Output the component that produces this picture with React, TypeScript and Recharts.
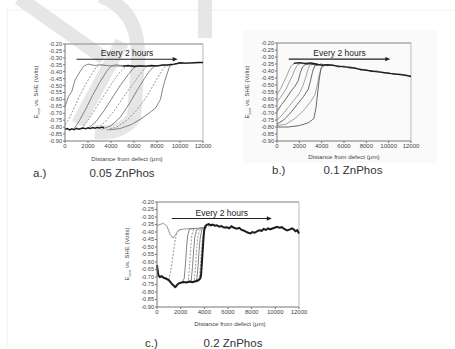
import React from 'react';
import { LineChart, Line, XAxis, YAxis, ReferenceLine, Label } from 'recharts';

// shared axes
const xTicks = [0, 2000, 4000, 6000, 8000, 10000, 12000];
const yTicks = [-0.9, -0.85, -0.8, -0.75, -0.7, -0.65, -0.6, -0.55, -0.5, -0.45, -0.4, -0.35, -0.3, -0.25, -0.2];

// a.) 0.05 ZnPhos  [distance um, potential V]
const aBase = [[0, -0.815], [200, -0.81], [400, -0.82], [600, -0.812], [800, -0.818], [1000, -0.808], [1200, -0.815], [1400, -0.81], [1600, -0.806], [1800, -0.812], [2000, -0.805], [2200, -0.81], [2400, -0.803], [2600, -0.808], [2800, -0.802], [3000, -0.806], [3200, -0.8], [3400, -0.803]];
const aTop = [[5000, -0.36], [5500, -0.355], [6000, -0.362], [6500, -0.358], [7000, -0.36], [7500, -0.355], [8000, -0.358], [8500, -0.352], [9000, -0.35], [9500, -0.345], [10000, -0.335], [10500, -0.338], [11000, -0.336], [11500, -0.334], [12000, -0.333]];
const a1 = [[0, -0.65], [300, -0.58], [600, -0.54], [870, -0.46], [1300, -0.4], [1600, -0.362], [2000, -0.345], [2600, -0.355], [3000, -0.35], [4000, -0.358], [5000, -0.36], [6000, -0.358], [7000, -0.362], [8000, -0.356], [9000, -0.352], [10000, -0.34], [11000, -0.338], [12000, -0.333]];
const a2 = [[0, -0.78], [300, -0.75], [800, -0.66], [1300, -0.57], [1800, -0.49], [2300, -0.42], [2700, -0.37], [3000, -0.35], [3600, -0.355]];
const a3 = [[800, -0.81], [1200, -0.76], [1800, -0.67], [2400, -0.57], [3000, -0.48], [3600, -0.4], [4000, -0.36], [4400, -0.35], [5000, -0.356]];
const a4 = [[1400, -0.81], [2000, -0.75], [2700, -0.66], [3400, -0.57], [4100, -0.48], [4700, -0.41], [5200, -0.37], [5600, -0.355], [6200, -0.36]];
const a5 = [[2000, -0.81], [2700, -0.76], [3400, -0.68], [4100, -0.59], [4800, -0.5], [5500, -0.42], [6000, -0.37], [6400, -0.355], [7000, -0.36]];
const a6 = [[2800, -0.81], [3500, -0.76], [4300, -0.68], [5100, -0.58], [5900, -0.49], [6500, -0.42], [7000, -0.37], [7400, -0.355], [8000, -0.358]];
const a7 = [[3200, -0.815], [4000, -0.79], [4800, -0.73], [5600, -0.63], [6300, -0.53], [6900, -0.45], [7400, -0.39], [7800, -0.36], [8500, -0.355]];
const a8 = [[3600, -0.82], [4500, -0.8], [5400, -0.75], [6300, -0.67], [7100, -0.58], [7800, -0.48], [8300, -0.41], [8700, -0.36], [9300, -0.352]];
const a9 = [[3800, -0.82], [4800, -0.81], [5800, -0.78], [6600, -0.74], [7300, -0.7], [7900, -0.66], [8300, -0.6], [8500, -0.52], [8700, -0.46], [8900, -0.41], [9100, -0.36], [9500, -0.345], [10000, -0.338]];

// b.) 0.1 ZnPhos
const b1 = [[0, -0.57], [300, -0.53], [600, -0.48], [900, -0.43], [1100, -0.39], [1300, -0.36], [1600, -0.345], [2000, -0.345], [2600, -0.35]];
const b2 = [[0, -0.62], [400, -0.58], [800, -0.53], [1100, -0.48], [1400, -0.43], [1600, -0.39], [1800, -0.36], [2100, -0.345], [2700, -0.348]];
const b3 = [[0, -0.69], [400, -0.64], [800, -0.6], [1200, -0.55], [1600, -0.51], [1900, -0.47], [2100, -0.41], [2300, -0.37], [2600, -0.35], [3200, -0.345]];
const b4 = [[0, -0.75], [500, -0.71], [1000, -0.66], [1500, -0.61], [2000, -0.56], [2300, -0.51], [2600, -0.44], [2800, -0.38], [3000, -0.355], [3600, -0.35]];
const b5 = [[0, -0.78], [600, -0.75], [1200, -0.7], [1800, -0.64], [2400, -0.58], [2800, -0.53], [3000, -0.47], [3200, -0.4], [3400, -0.36], [4000, -0.35]];
const b6 = [[0, -0.79], [800, -0.78], [1600, -0.74], [2400, -0.68], [3000, -0.62], [3400, -0.57], [3600, -0.5], [3800, -0.42], [4000, -0.37], [4500, -0.355]];
const b7 = [[0, -0.8], [1000, -0.8], [2000, -0.79], [2800, -0.77], [3300, -0.74], [3500, -0.66], [3650, -0.55], [3800, -0.45], [3950, -0.38], [4200, -0.36], [4800, -0.355]];
const bTop = [[1500, -0.345], [2000, -0.34], [2500, -0.345], [3000, -0.342], [3500, -0.35], [4000, -0.36], [4500, -0.355], [5000, -0.36], [5500, -0.365], [6000, -0.37], [6500, -0.372], [7000, -0.382], [7500, -0.388], [8000, -0.396], [8500, -0.4], [9000, -0.406], [9500, -0.41], [10000, -0.417], [10500, -0.42], [11000, -0.426], [11500, -0.432], [12000, -0.44]];
const bTop2 = [[2500, -0.352], [3000, -0.35], [3500, -0.358], [4000, -0.352], [4500, -0.362], [5000, -0.356], [5500, -0.372], [6000, -0.365], [6500, -0.38], [7000, -0.376], [7500, -0.394], [8000, -0.39], [8500, -0.405], [9000, -0.4], [9500, -0.414], [10000, -0.412], [10500, -0.424], [11000, -0.422], [11500, -0.428], [12000, -0.436]];

// c.) 0.2 ZnPhos
const cEarly = [[0, -0.36], [150, -0.352], [550, -0.342], [850, -0.362], [1100, -0.415], [1350, -0.44], [1550, -0.42], [1850, -0.386], [2250, -0.38], [2800, -0.378], [3400, -0.375], [4200, -0.368]];
const cBlack = [[0, -0.62], [60, -0.66], [120, -0.69], [250, -0.7], [400, -0.695], [560, -0.705], [750, -0.71], [985, -0.72], [1150, -0.735], [1300, -0.75], [1410, -0.757], [1530, -0.768], [1620, -0.762], [1750, -0.748], [1850, -0.742], [2000, -0.738], [2250, -0.733], [2500, -0.736], [2750, -0.73], [3000, -0.734], [3250, -0.728], [3500, -0.722], [3650, -0.71], [3720, -0.69], [3780, -0.62], [3830, -0.56], [3890, -0.49], [3940, -0.43], [4000, -0.385], [4080, -0.362], [4200, -0.352], [4370, -0.348], [4550, -0.356], [4700, -0.35], [4900, -0.358], [5070, -0.355], [5250, -0.365], [5450, -0.36], [5650, -0.37], [5900, -0.368], [6100, -0.375], [6300, -0.362], [6500, -0.372], [6760, -0.378], [6950, -0.372], [7150, -0.386], [7320, -0.39], [7500, -0.398], [7700, -0.405], [7890, -0.41], [8050, -0.4], [8250, -0.405], [8450, -0.396], [8650, -0.388], [8850, -0.392], [9010, -0.38], [9200, -0.386], [9400, -0.376], [9580, -0.382], [9800, -0.375], [10000, -0.37], [10140, -0.366], [10350, -0.372], [10560, -0.368], [10750, -0.38], [10990, -0.39], [11200, -0.384], [11400, -0.376], [11550, -0.382], [11700, -0.395], [11850, -0.388], [12000, -0.41]];
const cd1 = [[1000, -0.72], [1200, -0.64], [1350, -0.56], [1500, -0.47], [1650, -0.41], [1800, -0.39], [2200, -0.38]];
const c2 = [[2100, -0.74], [2300, -0.71], [2400, -0.62], [2500, -0.5], [2600, -0.42], [2750, -0.38], [3200, -0.376]];
const c3 = [[2450, -0.735], [2650, -0.72], [2750, -0.63], [2850, -0.51], [2950, -0.42], [3100, -0.38], [3500, -0.374]];
const c4 = [[2700, -0.74], [2900, -0.72], [3000, -0.63], [3100, -0.52], [3200, -0.43], [3350, -0.385], [3800, -0.372]];
const c5 = [[2950, -0.735], [3150, -0.72], [3250, -0.64], [3350, -0.52], [3450, -0.43], [3600, -0.39], [4000, -0.37]];
const c6 = [[3150, -0.735], [3350, -0.72], [3450, -0.65], [3550, -0.53], [3650, -0.44], [3800, -0.38], [4200, -0.365]];
const c7 = [[3300, -0.735], [3550, -0.72], [3650, -0.65], [3750, -0.53], [3850, -0.44], [4000, -0.38], [4400, -0.36]];

const FONT = '"Liberation Sans", Arial, sans-serif';
const SOLID = '#767676';
const DASH = '#8a8a8a';
const DARK = '#5a5a5a';
const BLACK = '#1c1c1c';

type Series = { rows: number[][]; color: string; width?: number; dash?: string };
const pts = (rows: number[][]) => rows.map(([x, y]) => ({ x, y }));

const arrowShape = (props: any) => {
  const { x1, y1, x2, y2 } = props;
  return (
    <g>
      <line x1={x1} y1={y1} x2={x2 - 4} y2={y2} stroke="#222" strokeWidth={1.2} />
      <polygon points={`${x2},${y2} ${x2 - 5},${y2 - 2.2} ${x2 - 5},${y2 + 2.2}`} fill="#222" />
    </g>
  );
};

function Panel(props: {
  left: number; top: number; width: number; height: number;
  series: Series[]; arrow: [number, number, number];
}) {
  const { left, top, width, height, series, arrow } = props;
  return (
    <div style={{ position: 'absolute', left, top }}>
      <LineChart width={width} height={height} margin={{ top: 10, right: 14, bottom: 10, left: 0 }}>
        <XAxis
          type="number"
          dataKey="x"
          domain={[0, 12000]}
          ticks={xTicks}
          interval={0}
          height={13}
          tickSize={2}
          tickMargin={1}
          stroke="#777"
          tick={{ fontSize: 6, fill: '#444', fontFamily: FONT }}
          allowDuplicatedCategory={false}
        />
        <YAxis
          type="number"
          domain={[-0.9, -0.2]}
          ticks={yTicks}
          interval={0}
          width={30}
          tickSize={2}
          tickMargin={1}
          stroke="#777"
          tickFormatter={(v: number) => v.toFixed(2)}
          tick={{ fontSize: 5.6, fill: '#444', fontFamily: FONT }}
        />
        <ReferenceLine y={-0.2} stroke="#aaa" strokeWidth={1.5} />
        <ReferenceLine x={12000} stroke="#bbb" strokeWidth={1} />
        {series.map((s, i) => (
          <Line
            key={i}
            data={pts(s.rows)}
            dataKey="y"
            type="linear"
            stroke={s.color}
            strokeWidth={s.width ?? 0.9}
            strokeDasharray={s.dash}
            dot={false}
            isAnimationActive={false}
          />
        ))}
        <ReferenceLine
          segment={[{ x: arrow[0], y: arrow[2] }, { x: arrow[1], y: arrow[2] }]}
          shape={arrowShape}
        >
          <Label value="Every 2 hours" position="top" offset={3} fontSize={8.5} fill="#222" fontFamily={FONT} />
        </ReferenceLine>
      </LineChart>
    </div>
  );
}

const seriesA: Series[] = [
  { rows: a1, color: SOLID }, { rows: a2, color: DASH, dash: '2 1.5' },
  { rows: a3, color: SOLID }, { rows: a4, color: DASH, dash: '2 1.5' },
  { rows: a5, color: SOLID }, { rows: a6, color: DASH, dash: '2 1.5' },
  { rows: a7, color: SOLID }, { rows: a8, color: DASH, dash: '2 1.5' },
  { rows: a9, color: SOLID },
  { rows: aBase, color: BLACK, width: 1.4 }, { rows: aTop, color: BLACK, width: 1.4 },
];
const seriesB: Series[] = [
  { rows: b1, color: '#999' }, { rows: b2, color: '#999' }, { rows: b3, color: DARK },
  { rows: b4, color: '#999' }, { rows: b5, color: DARK }, { rows: b6, color: '#999' },
  { rows: b7, color: DARK },
  { rows: bTop2, color: '#555', width: 1 }, { rows: bTop, color: BLACK, width: 1.3 },
];
const seriesC: Series[] = [
  { rows: cEarly, color: '#888' }, { rows: cd1, color: DASH, dash: '2 1.5' },
  { rows: c2, color: SOLID }, { rows: c3, color: DASH, dash: '2 1.5' },
  { rows: c4, color: SOLID }, { rows: c5, color: DASH, dash: '2 1.5' },
  { rows: c6, color: SOLID }, { rows: c7, color: DASH, dash: '2 1.5' },
  { rows: cBlack, color: BLACK, width: 2 },
];

const YTitle = ({ x, y }: { x: number; y: number }) => (
  <text x={x} y={y} transform={`rotate(-90 ${x} ${y})`} textAnchor="middle" fontSize={6} fill="#444" fontFamily={FONT}>
    E<tspan fontSize={4} dy={1.5}>corr</tspan><tspan dy={-1.5}> vs. SHE (Volts)</tspan>
  </text>
);

export default function App() {
  return (
    <div style={{ position: 'absolute', left: 0, top: 0, width: 455, height: 349, background: '#fff', overflow: 'hidden', fontFamily: FONT }}>
      {/* faint page furniture and watermark */}
      <svg width={455} height={349} style={{ position: 'absolute', left: 0, top: 0 }}>
        <line x1={7} y1={10} x2={455} y2={10} stroke="#f0f0f0" />
        <line x1={7} y1={10} x2={7} y2={349} stroke="#f0f0f0" />
        <rect x={243} y={30} width={194} height={133} fill="#fafafa" />
        <g stroke="#e6e6e6" strokeWidth={14} fill="none" strokeLinecap="butt">
          <line x1={19} y1={-2} x2={104} y2={58} />
          <line x1={122} y1={42} x2={78} y2={124} />
          <path d="M 100 -4 Q 140 10 138 60 L 134 118 Q 120 135 95 132" />
          <line x1={205} y1={-2} x2={205} y2={38} />
        </g>
      </svg>

      <Panel left={35} top={34} width={182} height={130} series={seriesA} arrow={[1000, 9800, -0.31]} />
      <Panel left={247} top={33} width={178} height={131} series={seriesB} arrow={[1050, 10150, -0.315]} />
      <Panel left={127} top={192} width={186} height={138} series={seriesC} arrow={[1250, 9700, -0.31]} />

      <svg width={455} height={349} style={{ position: 'absolute', left: 0, top: 0, pointerEvents: 'none' }}>
        <YTitle x={38} y={92} />
        <YTitle x={249} y={92} />
        <YTitle x={129} y={254} />
        <g fontSize={6.2} fill="#444" fontFamily={FONT} textAnchor="middle">
          <text x={127} y={161}>Distance from defect (μm)</text>
          <text x={344} y={159}>Distance from defect (μm)</text>
          <text x={230} y={326}>Distance from defect (μm)</text>
        </g>
        <g fontSize={11.5} fill="#333" fontFamily={FONT}>
          <text x={33} y={177}>a.)</text>
          <text x={122} y={177} textAnchor="middle">0.05 ZnPhos</text>
          <text x={272} y={174}>b.)</text>
          <text x={353} y={174} textAnchor="middle">0.1 ZnPhos</text>
          <text x={145} y={347}>c.)</text>
          <text x={233} y={347} textAnchor="middle">0.2 ZnPhos</text>
        </g>
      </svg>
    </div>
  );
}
